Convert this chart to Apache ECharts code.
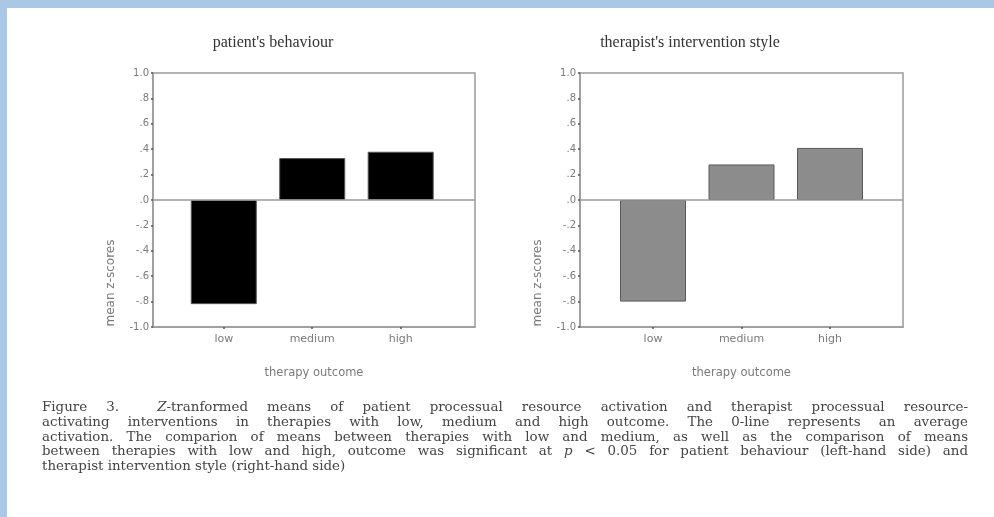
<!DOCTYPE html>
<html>
<head>
<meta charset="utf-8">
<script src="https://cdn.jsdelivr.net/npm/echarts@6/dist/echarts.min.js"></script>
<style>
  html, body { margin: 0; padding: 0; background: #fff; }
  #wrap { position: relative; width: 994px; height: 517px; overflow: hidden; background: #fff; }
  #topband { position: absolute; left: 0; top: 0; width: 994px; height: 8px; background: #a9c8e5; }
  #leftband { position: absolute; left: 0; top: 0; width: 7px; height: 517px; background: #a9c8e5; }
  #chart { position: absolute; left: 0; top: 0; width: 994px; height: 517px; }
  #caption { position: absolute; left: 42px; top: 400px; width: 926px; font-family: "DejaVu Serif", serif; font-size: 13.4px; line-height: 14.8px; color: #444; }
  #caption div { white-space: nowrap; text-align: justify; text-align-last: justify; }
  #caption div.last { text-align-last: left; }
</style>
</head>
<body>
<div id="wrap">
  <div id="topband"></div>
  <div id="leftband"></div>
  <div id="chart"></div>
  <div id="caption">
    <div>Figure 3.&nbsp; <i>Z</i>-tranformed means of patient processual resource activation and therapist processual resource-</div>
    <div>activating interventions in therapies with low, medium and high outcome. The 0-line represents an average</div>
    <div>activation. The comparion of means between therapies with low and medium, as well as the comparison of means</div>
    <div>between therapies with low and high, outcome was significant at <i>p</i> &lt; 0.05 for patient behaviour (left-hand side) and</div>
    <div class="last">therapist intervention style (right-hand side)</div>
  </div>
</div>
<script>
// ---- data ----
const categories = ['low', 'medium', 'high'];
const patientBehaviour = [-0.82, 0.33, 0.38];
const therapistStyle = [-0.80, 0.28, 0.41];
const yTickValues = [-1.0, -0.8, -0.6, -0.4, -0.2, 0.0, 0.2, 0.4, 0.6, 0.8, 1.0];
const panelTitles = ["patient's behaviour", "therapist's intervention style"];
const xAxisTitle = 'therapy outcome';
const yAxisTitle = 'mean z-scores';

function yFmt(v) {
  const r = Math.round(v * 10) / 10;
  if (Math.abs(r) === 1) return (r < 0 ? '-' : '') + '1.0';
  const s = Math.abs(r).toFixed(1).replace(/^0/, '');
  return (r < 0 ? '-' : '') + s;
}

const gridCol = '#9a9a9a';
const labelCol = '#7a7a7a';
const grids = [
  { left: 153, top: 73, width: 322, height: 254 },
  { left: 580, top: 73, width: 323, height: 254 }
];
const xRanges = [[-0.80, 2.84], [-0.825, 2.825]];

const chart = echarts.init(document.getElementById('chart'), null, { renderer: 'canvas' });

function mkX(i) {
  return {
    type: 'value', gridIndex: i, min: xRanges[i][0], max: xRanges[i][1],
    name: xAxisTitle, nameLocation: 'middle', nameGap: 40,
    nameTextStyle: { fontFamily: 'DejaVu Sans', fontSize: 11.5, color: labelCol },
    axisLine: { show: true, onZero: false, lineStyle: { color: gridCol, width: 1.5 } },
    axisTick: { show: true, customValues: [0, 1, 2], length: 2, lineStyle: { color: '#555', width: 1.5 } },
    axisLabel: { customValues: [0, 1, 2], formatter: v => categories[Math.round(v)], fontFamily: 'DejaVu Sans', fontSize: 11, color: labelCol, margin: 7 },
    splitLine: { show: false }
  };
}
function mkY(i) {
  return {
    type: 'value', gridIndex: i, min: -1, max: 1, interval: 0.2,
    name: yAxisTitle, nameLocation: 'middle', nameRotate: 90, nameGap: 36,
    nameTextStyle: { fontFamily: 'DejaVu Sans', fontSize: 12, color: labelCol, padding: [0, 166, 0, 0] },
    axisLine: { show: true, onZero: false, lineStyle: { color: gridCol, width: 1.5 } },
    axisTick: { show: true, length: 2, lineStyle: { color: '#555', width: 1.5 } },
    axisLabel: { formatter: yFmt, fontFamily: 'DejaVu Sans', fontSize: 10, color: labelCol, margin: 4 },
    splitLine: { show: false }
  };
}
function mkSeries(i, vals, color, border) {
  return {
    type: 'bar', xAxisIndex: i, yAxisIndex: i, barWidth: 66,
    data: vals.map((v, k) => [k, v]),
    itemStyle: { color: color, borderColor: border, borderWidth: 1 },
    markLine: {
      silent: true, symbol: 'none', label: { show: false },
      lineStyle: { color: gridCol, width: 1.5, type: 'solid' },
      data: [{ yAxis: 0 }]
    }
  };
}

chart.setOption({
  animation: false,
  backgroundColor: 'transparent',
  title: [
    { text: panelTitles[0], left: 273, top: 35, textAlign: 'center', padding: 0,
      textStyle: { fontFamily: 'Liberation Serif', fontSize: 16, fontWeight: 'normal', color: '#333' } },
    { text: panelTitles[1], left: 690, top: 35, textAlign: 'center', padding: 0,
      textStyle: { fontFamily: 'Liberation Serif', fontSize: 16, fontWeight: 'normal', color: '#333' } }
  ],
  grid: grids.map(g => Object.assign({ show: true, borderColor: gridCol, borderWidth: 1.5, backgroundColor: 'transparent' }, g)),
  xAxis: [mkX(0), mkX(1)],
  yAxis: [mkY(0), mkY(1)],
  series: [
    mkSeries(0, patientBehaviour, '#000000', '#555555'),
    mkSeries(1, therapistStyle, '#8c8c8c', '#5a5a5a')
  ]
});
</script>
</body>
</html>
